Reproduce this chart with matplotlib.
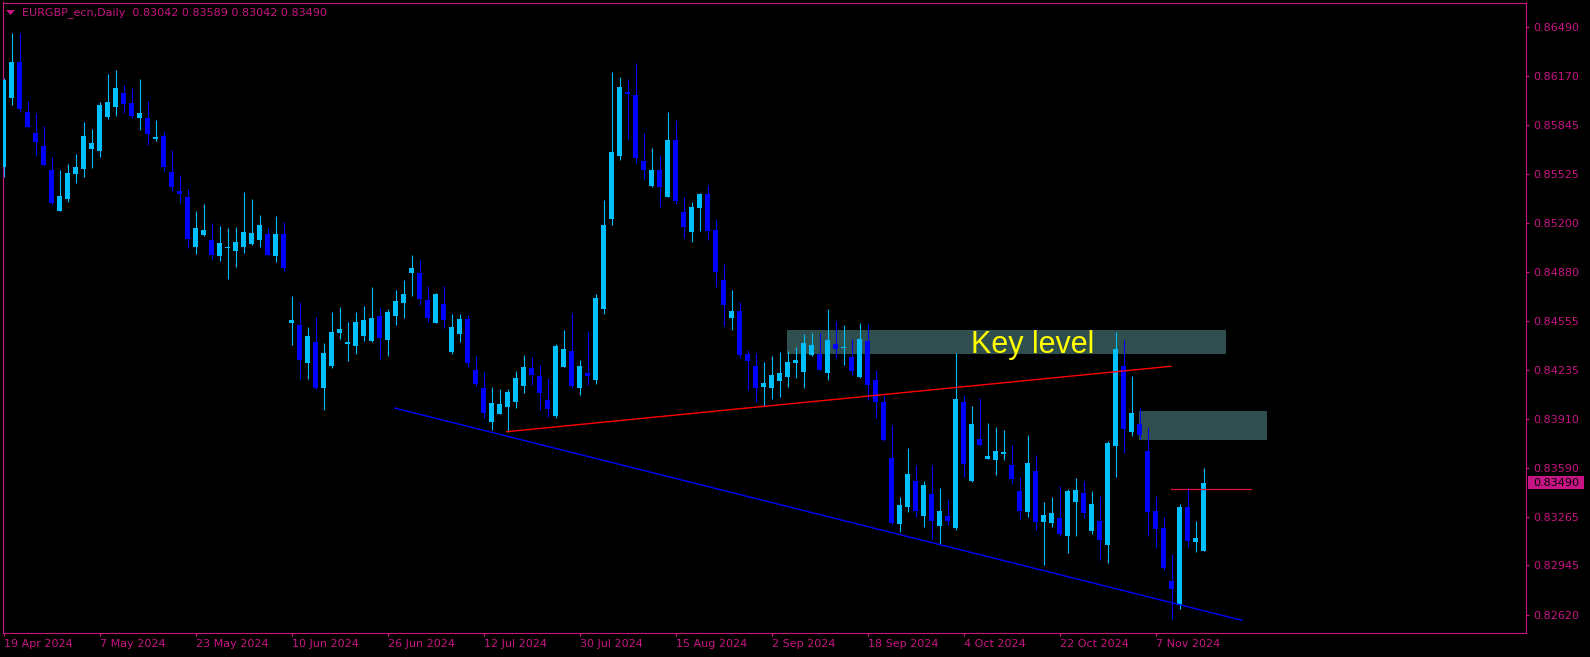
import matplotlib
matplotlib.use("Agg")
import matplotlib.pyplot as plt
import matplotlib.transforms as mtransforms
from matplotlib.patches import Rectangle, Polygon
import numpy as np

# ---------------- data ----------------
opens = [0.85572, 0.86027, 0.86262, 0.85933, 0.85795, 0.85709, 0.85551, 0.85283, 0.85360, 0.85526,
         0.85559, 0.85689, 0.85676, 0.85900, 0.85966, 0.86058, 0.85992, 0.85893, 0.85893, 0.85757,
         0.85775, 0.85538, 0.85412, 0.85373, 0.85043, 0.85122, 0.85089, 0.84984, 0.85037, 0.85017,
         0.85043, 0.85063, 0.85089, 0.85129, 0.84984, 0.85129, 0.84544, 0.84529, 0.84279, 0.84417,
         0.84114, 0.84259, 0.84477, 0.84404, 0.84391, 0.84457, 0.84424, 0.84589, 0.84430, 0.84589,
         0.84674, 0.84872, 0.84872, 0.84694, 0.84544, 0.84668, 0.84351, 0.84470, 0.84569, 0.84233,
         0.84114, 0.83890, 0.83945, 0.83991, 0.84024, 0.84129, 0.84246, 0.84193, 0.84035, 0.83932,
         0.84254, 0.84358, 0.84116, 0.84213, 0.84169, 0.84637, 0.85230, 0.85645, 0.86065, 0.86045,
         0.85610, 0.85447, 0.85551, 0.85375, 0.85748, 0.85274, 0.85142, 0.85300, 0.85393, 0.85155,
         0.84826, 0.84575, 0.84622, 0.84338, 0.84259, 0.84121, 0.84114, 0.84160, 0.84187, 0.84279,
         0.84220, 0.84332, 0.84338, 0.84213, 0.84404, 0.84378, 0.84318, 0.84187, 0.84424, 0.84167,
         0.84022, 0.83653, 0.83218, 0.83330, 0.83501, 0.83271, 0.83416, 0.83205, 0.83271, 0.83192,
         0.84022, 0.83501, 0.83778, 0.83648, 0.83640, 0.83679, 0.83607, 0.83435, 0.83297, 0.83567,
         0.83231, 0.83224, 0.83257, 0.83139, 0.83363, 0.83422, 0.83172, 0.83238, 0.83079, 0.83732,
         0.84259, 0.83824, 0.83877, 0.83699, 0.83303, 0.83192, 0.82842, 0.82684, 0.83330, 0.83099,
         0.83042]
highs = [0.86157, 0.86452, 0.86456, 0.86005, 0.85926, 0.85841, 0.85636, 0.85551, 0.85590, 0.85656,
         0.85867, 0.85821, 0.86001, 0.86183, 0.86210, 0.86111, 0.86091, 0.86150, 0.86005, 0.85880,
         0.85808, 0.85683, 0.85518, 0.85426, 0.85280, 0.85327, 0.85201, 0.85182, 0.85169, 0.85175,
         0.85406, 0.85360, 0.85254, 0.85169, 0.85248, 0.85208, 0.84720, 0.84681, 0.84516, 0.84582,
         0.84411, 0.84615, 0.84648, 0.84549, 0.84615, 0.84654, 0.84780, 0.84641, 0.84635, 0.84760,
         0.84826, 0.84991, 0.84958, 0.84786, 0.84740, 0.84786, 0.84602, 0.84602, 0.84595, 0.84325,
         0.84220, 0.84121, 0.84108, 0.84108, 0.84226, 0.84332, 0.84318, 0.84266, 0.84180, 0.84406,
         0.84496, 0.84610, 0.84299, 0.84490, 0.84733, 0.85353, 0.86197, 0.86164, 0.86150, 0.86256,
         0.85795, 0.85696, 0.85650, 0.85933, 0.85880, 0.85373, 0.85340, 0.85399, 0.85452, 0.85228,
         0.84931, 0.84760, 0.84681, 0.84365, 0.84345, 0.84285, 0.84325, 0.84351, 0.84358, 0.84384,
         0.84470, 0.84477, 0.84477, 0.84635, 0.84556, 0.84529, 0.84437, 0.84542, 0.84536, 0.84233,
         0.84068, 0.83870, 0.83396, 0.83719, 0.83607, 0.83501, 0.83607, 0.83455, 0.83383, 0.84345,
         0.84068, 0.83995, 0.84048, 0.83883, 0.83857, 0.83837, 0.83738, 0.83528, 0.83804, 0.83672,
         0.83363, 0.83396, 0.83468, 0.83449, 0.83521, 0.83501, 0.83435, 0.83402, 0.83765, 0.84483,
         0.84430, 0.84193, 0.83982, 0.83850, 0.83402, 0.83264, 0.83020, 0.83350, 0.83455, 0.83238,
         0.83589]
lows = [0.85507, 0.85979, 0.85935, 0.85830, 0.85645, 0.85579, 0.85329, 0.85280, 0.85342, 0.85465,
        0.85507, 0.85566, 0.85638, 0.85887, 0.85907, 0.85928, 0.85893, 0.85814, 0.85715, 0.85742,
        0.85544, 0.85412, 0.85333, 0.85037, 0.84997, 0.85116, 0.84964, 0.84951, 0.84832, 0.84912,
        0.85004, 0.85056, 0.85043, 0.84984, 0.84944, 0.84885, 0.84397, 0.84173, 0.84173, 0.84110,
        0.83969, 0.84246, 0.84437, 0.84292, 0.84338, 0.84424, 0.84420, 0.84305, 0.84325, 0.84529,
        0.84575, 0.84720, 0.84661, 0.84549, 0.84540, 0.84510, 0.84338, 0.84417, 0.84253, 0.84127,
        0.83916, 0.83837, 0.83940, 0.83826, 0.83984, 0.84083, 0.84136, 0.83971, 0.83925, 0.83918,
        0.84250, 0.84116, 0.84070, 0.84136, 0.84142, 0.84604, 0.85190, 0.85619, 0.85757, 0.85599,
        0.85493, 0.85441, 0.85309, 0.85370, 0.85329, 0.85103, 0.85076, 0.85149, 0.85089, 0.84780,
        0.84523, 0.84496, 0.84312, 0.84101, 0.84022, 0.83995, 0.84042, 0.84055, 0.84121, 0.84180,
        0.84114, 0.84325, 0.84230, 0.84167, 0.84312, 0.84266, 0.84200, 0.84180, 0.84035, 0.83916,
        0.83765, 0.83220, 0.83165, 0.83297, 0.83264, 0.83198, 0.83119, 0.83086, 0.83211, 0.83178,
        0.83528, 0.83495, 0.83732, 0.83645, 0.83541, 0.83640, 0.83481, 0.83251, 0.83264, 0.83178,
        0.82948, 0.83198, 0.83139, 0.83027, 0.83139, 0.83257, 0.83152, 0.82981, 0.82961, 0.83528,
        0.83686, 0.83798, 0.83778, 0.83139, 0.83060, 0.82915, 0.82592, 0.82658, 0.83066, 0.83033,
        0.83042]
closes = [0.86144, 0.86262, 0.85955, 0.85834, 0.85737, 0.85584, 0.85333, 0.85379, 0.85531, 0.85571,
          0.85775, 0.85729, 0.85979, 0.85999, 0.86091, 0.85988, 0.85909, 0.85926, 0.85790, 0.85768,
          0.85571, 0.85439, 0.85395, 0.85096, 0.85169, 0.85155, 0.84991, 0.85070, 0.85043, 0.85076,
          0.85142, 0.85136, 0.85188, 0.84991, 0.85129, 0.84905, 0.84562, 0.84301, 0.84457, 0.84116,
          0.84345, 0.84483, 0.84503, 0.84417, 0.84549, 0.84562, 0.84575, 0.84444, 0.84615, 0.84687,
          0.84733, 0.84905, 0.84701, 0.84577, 0.84733, 0.84564, 0.84516, 0.84569, 0.84279, 0.84140,
          0.83949, 0.84015, 0.84009, 0.84088, 0.84180, 0.84253, 0.84202, 0.84083, 0.83978, 0.84391,
          0.84371, 0.84127, 0.84259, 0.84193, 0.84707, 0.85188, 0.85669, 0.86098, 0.86052, 0.85632,
          0.85553, 0.85551, 0.85441, 0.85748, 0.85348, 0.85175, 0.85307, 0.85393, 0.85149, 0.84881,
          0.84661, 0.84622, 0.84332, 0.84292, 0.84114, 0.84147, 0.84200, 0.84213, 0.84285, 0.84299,
          0.84411, 0.84397, 0.84233, 0.84430, 0.84371, 0.84384, 0.84226, 0.84437, 0.84134, 0.84022,
          0.83771, 0.83224, 0.83343, 0.83547, 0.83303, 0.83475, 0.83238, 0.83303, 0.83238, 0.84042,
          0.83613, 0.83877, 0.83738, 0.83666, 0.83699, 0.83692, 0.83514, 0.83303, 0.83620, 0.83231,
          0.83277, 0.83290, 0.83152, 0.83435, 0.83442, 0.83290, 0.83350, 0.83112, 0.83752, 0.84371,
          0.83844, 0.83949, 0.83804, 0.83297, 0.83185, 0.82928, 0.82790, 0.83330, 0.83106, 0.83126,
          0.83490]

date_tick_bars = [0, 12, 24, 36, 48, 60, 72, 84, 96, 108, 120, 132, 144]
date_labels = ["19 Apr 2024", "7 May 2024", "23 May 2024", "10 Jun 2024", "26 Jun 2024",
               "12 Jul 2024", "30 Jul 2024", "15 Aug 2024", "2 Sep 2024", "18 Sep 2024",
               "4 Oct 2024", "22 Oct 2024", "7 Nov 2024"]
price_ticks = [0.86490, 0.86170, 0.85845, 0.85525, 0.85200, 0.84880, 0.84555,
               0.84235, 0.83910, 0.83590, 0.83265, 0.82945, 0.82620]
price_labels = ["0.86490", "0.86170", "0.85845", "0.85525", "0.85200", "0.84880", "0.84555",
                "0.84235", "0.83910", "0.83590", "0.83265", "0.82945", "0.82620"]

# annotation objects (bar index, price)
red_trend_x = [62.9, 145.9]
red_trend_y = [0.83826, 0.84257]
blue_trend_x = [48.9, 154.8]
blue_trend_y = [0.83982, 0.82583]
key_box = (97.9, 152.8, 0.84338, 0.84496)
second_box = (141.9, 157.9, 0.83773, 0.83963)
price_line_x = [145.9, 155.9]
price_line_y = [0.83447, 0.83447]
key_text_pos = (120.9, 0.84343)
current_price = 0.83490
header = "EURGBP_ecn,Daily  0.83042 0.83589 0.83042 0.83490"

# ---------------- style ----------------
W, H = 1590, 657
FG = "#C71585"
BULL = "#00BFFF"
BEAR = "#0000FF"
BOX = "#2F4F4F"

fig = plt.figure(figsize=(W / 100, H / 100), dpi=100)
fig.patch.set_facecolor("black")
ax_l, ax_r, ax_t, ax_b = 2.5, 1526, 2.5, 633
ax = fig.add_axes([ax_l / W, (H - ax_b) / H, (ax_r - ax_l) / W, (ax_b - ax_t) / H])
ax.set_facecolor("black")

px_per_bar = 8.0
x0_px = 3.5
ax.set_xlim((ax_l - x0_px) / px_per_bar, (ax_r - x0_px) / px_per_bar)
ax.set_ylim(0.824995, 0.866545)

# boxes (background)
for (xa, xb, ya, yb) in [key_box, second_box]:
    ax.add_patch(Rectangle((xa, ya), xb - xa, yb - ya, facecolor=BOX, edgecolor="none", zorder=1))

# candles
idx = np.arange(len(opens))
o = np.array(opens); c = np.array(closes); h = np.array(highs); l = np.array(lows)
cols = [BULL if cc >= oo else BEAR for oo, cc in zip(o, c)]
ax.vlines(idx, l, h, colors=cols, linewidth=0.8, zorder=2)
bottoms = np.minimum(o, c)
heights = np.maximum(np.abs(c - o), 0.00008)
ax.bar(idx, heights, bottom=bottoms, width=0.62, color=cols, linewidth=0, zorder=3)

# lines
ax.plot(red_trend_x, red_trend_y, color="#FF0000", linewidth=1.0, zorder=4)
ax.plot(blue_trend_x, blue_trend_y, color="#0000FF", linewidth=1.0, zorder=4)
ax.plot(price_line_x, price_line_y, color="#DC143C", linewidth=0.9, zorder=4)

# key level text
ax.text(key_text_pos[0], key_text_pos[1], "Key level", color="#FFFF00",
        fontsize=22, family="Liberation Sans", ha="left", va="baseline", zorder=5)

# axes styling
for s in ax.spines.values():
    s.set_color(FG)
    s.set_linewidth(0.8)
ax.yaxis.tick_right()
ax.set_yticks(price_ticks)
ax.set_yticklabels(price_labels)
ax.set_xticks(date_tick_bars)
ax.set_xticklabels(date_labels, ha="left")
ax.tick_params(axis="both", colors=FG, labelcolor=FG, labelsize=8, length=2.5, width=0.8)
ax.tick_params(axis="y", pad=3)
ax.tick_params(axis="x", pad=2)

# current price label on right axis
blend = mtransforms.blended_transform_factory(ax.transAxes, ax.transData)
span = ax_r - ax_l
box_h = 13 * (0.866545 - 0.824995) / (ax_b - ax_t)
ax.add_patch(Rectangle(((1528 - ax_l) / span, current_price - box_h / 2), 56 / span, box_h,
                       transform=blend, facecolor=FG, edgecolor="none", clip_on=False, zorder=6))
ax.text((1533 - ax_l) / span, current_price, f"{current_price:.5f}", transform=blend,
        color="black", fontsize=8, ha="left", va="center", clip_on=False, zorder=7)

# header
tri = Polygon([[6 / W, 1 - 10 / H], [15 / W, 1 - 10 / H], [10.5 / W, 1 - 15 / H]],
              closed=True, transform=fig.transFigure, facecolor=FG, edgecolor="none")
fig.add_artist(tri)
fig.text(21.5 / W, 1 - 12.5 / H, header, color=FG, fontsize=8, ha="left", va="center")

fig.savefig("out.png", dpi=100, facecolor="black")
